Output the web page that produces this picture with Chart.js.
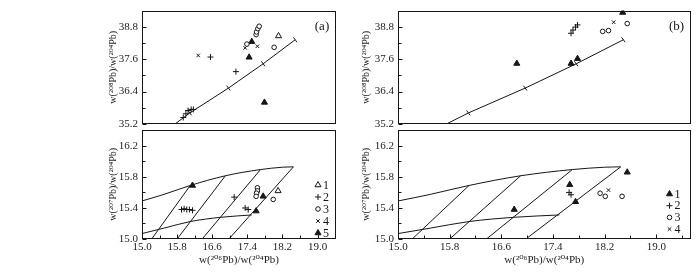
<!DOCTYPE html>
<html>
<head>
<meta charset="utf-8">
<script src="https://cdn.jsdelivr.net/npm/chart.js@4.4.1/dist/chart.umd.min.js"></script>
<style>
  html, body { margin: 0; padding: 0; background: #fff; }
  #wrap { position: relative; width: 700px; height: 275px; overflow: hidden; }
  #wrap canvas { position: absolute; }
</style>
</head>
<body>
<div id="wrap">
  <canvas id="aTop" width="345" height="135" style="left:0;top:0"></canvas>
  <canvas id="aBot" width="345" height="156" style="left:0;top:119px"></canvas>
  <canvas id="bTop" width="344" height="135" style="left:356px;top:0"></canvas>
  <canvas id="bBot" width="344" height="156" style="left:356px;top:119px"></canvas>
</div>
<script>
// ---- tick labels ----
const xTicks = [15.0, 15.8, 16.6, 17.4, 18.2, 19.0];
const yTicks208 = [35.2, 36.4, 37.6, 38.8];
const yTicks207 = [15.0, 15.4, 15.8, 16.2];

// ---- model curves (same in both panels) ----
const growth208 = [[15.75, 35.2], [16.09, 35.61], [16.97, 36.53], [17.76, 37.43], [18.49, 38.32]];
const growth207Upper = [[15.0, 15.49], [15.5, 15.575], [16.1, 15.69], [16.9, 15.815], [17.7, 15.895], [18.2, 15.925], [18.45, 15.93]];
const growth207Lower = [[15.0, 15.07], [15.5, 15.14], [16.1, 15.225], [16.8, 15.28], [17.5, 15.31]];
const iso1 = [[15.22, 15.0], [16.1, 15.69]];
const iso2 = [[15.8, 15.0], [16.9, 15.815]];
const iso3 = [[16.37, 15.0], [17.7, 15.895]];
const iso4 = [[16.98, 15.0], [18.45, 15.93]];

// ---- panel (a) samples ----
const a208S1 = [[18.11, 38.46]];
const a208S2 = [[15.94, 35.44], [16.00, 35.58], [16.05, 35.70], [16.12, 35.74], [16.17, 35.74], [16.56, 37.68], [17.14, 37.14]];
const a208S3 = [[17.39, 38.16], [17.60, 38.51], [17.61, 38.61], [17.64, 38.73], [17.67, 38.82], [18.01, 38.04]];
const a208S4 = [[16.28, 37.74], [17.35, 38.02], [17.63, 38.08]];
const a208S5 = [[17.50, 38.25], [17.44, 37.67], [17.79, 36.00]];

const a207S1 = [[18.10, 15.62]];
const a207S2 = [[15.90, 15.38], [15.96, 15.39], [16.02, 15.38], [16.08, 15.38], [16.15, 15.37], [17.10, 15.54], [17.35, 15.40], [17.42, 15.38]];
const a207S3 = [[17.63, 15.66], [17.63, 15.62], [17.61, 15.59], [17.60, 15.55], [17.99, 15.51]];
const a207S4 = [];
const a207S5 = [[16.15, 15.69], [17.76, 15.55], [17.60, 15.36]];

// ---- panel (b) samples ----
const b208S1 = [[18.48, 39.33], [16.84, 37.44], [17.68, 37.44], [17.78, 37.62]];
const b208S2 = [[17.68, 38.56], [17.71, 38.68], [17.75, 38.79], [17.78, 38.87]];
const b208S3 = [[18.17, 38.63], [18.26, 38.66], [18.55, 38.92]];
const b208S4 = [[18.34, 38.97]];

const b207S1 = [[18.55, 15.86], [17.66, 15.70], [17.75, 15.48], [16.80, 15.38]];
const b207S2 = [[17.65, 15.60], [17.68, 15.57]];
const b207S3 = [[18.13, 15.59], [18.21, 15.55], [18.47, 15.55]];
const b207S4 = [[18.26, 15.63]];

const INK = '#161616';
Chart.defaults.font.family = "'Liberation Serif', 'DejaVu Serif', serif";
Chart.defaults.font.size = 11;
Chart.defaults.color = '#222';

const toXY = pts => pts.map(p => ({ x: p[0], y: p[1] }));

// marker looks
const openTri = { pointStyle: 'triangle', pointRadius: 3.5, backgroundColor: '#fff' };
const solidTri = { pointStyle: 'triangle', pointRadius: 3.5, backgroundColor: INK };
const plus = { pointStyle: 'cross', pointRadius: 3, backgroundColor: 'transparent' };
const ring = { pointStyle: 'circle', pointRadius: 2.3, backgroundColor: '#fff' };
const xMark = { pointStyle: 'crossRot', pointRadius: 2.5, backgroundColor: 'transparent' };

function series(label, pts, look) {
  return Object.assign({
    label: label, data: toXY(pts), inLegend: true, showLine: false,
    borderColor: INK, borderWidth: 1
  }, look);
}

function curve(pts, extra) {
  return Object.assign({
    data: toXY(pts), showLine: true, pointRadius: 0, borderColor: INK,
    borderWidth: 1, fill: false, cubicInterpolationMode: 'monotone'
  }, extra || {});
}

// frame, inner ticks, legend and panel letter
const framePlugin = {
  id: 'frame',
  afterDatasetsDraw(chart, args, opts) {
    const { ctx, chartArea: a, scales } = chart;
    ctx.save();
    ctx.strokeStyle = INK;
    ctx.lineWidth = 1;
    const L = Math.round(a.left) + 0.5, T = Math.round(a.top) + 0.5;
    const R = Math.round(a.right) - 0.5, B = Math.round(a.bottom) - 0.5;
    ctx.strokeRect(L, T, R - L, B - T);

    const tickSet = (scale, major) => {
      const out = major.map(v => ({ v: v, len: 4 }));
      for (let i = 0; i < major.length - 1; i++) out.push({ v: (major[i] + major[i + 1]) / 2, len: 3 });
      const step = major[1] - major[0];
      const lo = major[0] - step / 2, hi = major[major.length - 1] + step / 2;
      if (lo > scale.min) out.push({ v: lo, len: 3 });
      if (hi < scale.max - 0.01) out.push({ v: hi, len: 3 });
      return out;
    };
    ctx.beginPath();
    tickSet(scales.y, opts.yMajor).forEach(t => {
      const py = Math.round(scales.y.getPixelForValue(t.v)) + 0.5;
      ctx.moveTo(L, py); ctx.lineTo(L + t.len, py);
    });
    if (opts.xTicks) {
      tickSet(scales.x, xTicks).forEach(t => {
        const px = Math.round(scales.x.getPixelForValue(t.v)) + 0.5;
        ctx.moveTo(px, B); ctx.lineTo(px, B - t.len);
      });
    }
    ctx.stroke();

    if (opts.letter) {
      ctx.fillStyle = INK;
      ctx.font = "13px 'Liberation Serif', serif";
      ctx.textAlign = 'center';
      ctx.textBaseline = 'middle';
      ctx.fillText(opts.letter, a.right - 14, a.top + 16);
    }

    if (opts.legend) {
      const lg = opts.legend;
      const items = chart.data.datasets.filter(d => d.inLegend);
      items.forEach((d, i) => {
        const x = a.right + lg.dx, y = a.bottom + lg.dy + i * lg.step;
        ctx.fillStyle = d.backgroundColor;
        ctx.strokeStyle = INK;
        ctx.lineWidth = 1;
        Chart.helpers.drawPoint(ctx, { pointStyle: d.pointStyle, radius: d.pointRadius, rotation: 0, borderWidth: 1 }, x, y);
        ctx.fillStyle = INK;
        ctx.font = "12px 'Liberation Serif', serif";
        ctx.textAlign = 'left';
        ctx.textBaseline = 'middle';
        ctx.fillText(d.label, x + 5, y + 0.5);
      });
    }
    ctx.restore();
  }
};

function yAxis(min, max, ticks, title, width) {
  return {
    type: 'linear', min: min, max: max,
    afterBuildTicks: s => { s.ticks = ticks.map(v => ({ value: v })); },
    afterFit: s => { s.width = width; },
    grid: { display: false, drawTicks: false },
    border: { display: false },
    ticks: { padding: 4, callback: v => v.toFixed(1) },
    title: { display: true, text: title, padding: 0, font: { size: 10 } }
  };
}

function xAxisBottom(max) {
  return {
    type: 'linear', min: 15.0, max: max,
    afterBuildTicks: s => { s.ticks = xTicks.map(v => ({ value: v })); },
    afterFit: s => { s.height = 28; },
    grid: { display: false, drawTicks: false },
    border: { display: false },
    ticks: { padding: 2, autoSkip: false, maxRotation: 0, callback: v => v.toFixed(1) },
    title: { display: true, text: 'w(²⁰⁶Pb)/w(²⁰⁴Pb)', padding: 0, font: { size: 11 } }
  };
}

function makeChart(id, datasets, scales, padding, frameOpts) {
  return new Chart(document.getElementById(id), {
    type: 'scatter',
    data: { datasets: datasets },
    options: {
      responsive: false,
      animation: false,
      layout: { padding: padding },
      scales: scales,
      plugins: { legend: { display: false }, tooltip: { enabled: false }, frame: frameOpts }
    },
    plugins: [framePlugin]
  });
}

const growthTicks = { pointStyle: 'line', pointRadius: [0, 3, 3, 3, 3], pointRotation: 54, pointBorderColor: INK, pointBorderWidth: 1, cubicInterpolationMode: 'default', tension: 0 };
const title208 = 'w(²⁰⁸Pb)/w(²⁰⁴Pb)';
const title207 = 'w(²⁰⁷Pb)/w(²⁰⁴Pb)';

// ---- panel (a) ----
makeChart('aTop', [
  series('1', a208S1, openTri), series('2', a208S2, plus), series('3', a208S3, ring),
  series('4', a208S4, xMark), series('5', a208S5, solidTri),
  curve(growth208, growthTicks)
], {
  x: { type: 'linear', min: 15.0, max: 19.42, display: false },
  y: yAxis(35.2, 39.4, yTicks208, title208, 35)
}, { left: 107, top: 7, right: 9, bottom: 11 }, { yMajor: yTicks208, letter: '(a)' });

makeChart('aBot', [
  series('1', a207S1, openTri), series('2', a207S2, plus), series('3', a207S3, ring),
  series('4', a207S4, xMark), series('5', a207S5, solidTri),
  curve(growth207Upper), curve(growth207Lower),
  curve(iso1), curve(iso2), curve(iso3), curve(iso4)
], {
  x: xAxisBottom(19.42),
  y: yAxis(15.0, 16.41, yTicks207, title207, 35)
}, { left: 107, top: 5, right: 9, bottom: 8 },
{ yMajor: yTicks207, xTicks: true, legend: { dx: -18, dy: -54, step: 12 } });

// ---- panel (b) ----
makeChart('bTop', [
  series('1', b208S1, solidTri), series('2', b208S2, plus), series('3', b208S3, ring),
  series('4', b208S4, xMark),
  curve(growth208, growthTicks)
], {
  x: { type: 'linear', min: 15.0, max: 19.53, display: false },
  y: yAxis(35.2, 39.4, yTicks208, title208, 38)
}, { left: 4, top: 7, right: 9.5, bottom: 11 }, { yMajor: yTicks208, letter: '(b)' });

makeChart('bBot', [
  series('1', b207S1, solidTri), series('2', b207S2, plus), series('3', b207S3, ring),
  series('4', b207S4, xMark),
  curve(growth207Upper), curve(growth207Lower),
  curve(iso1), curve(iso2), curve(iso3), curve(iso4)
], {
  x: xAxisBottom(19.53),
  y: yAxis(15.0, 16.41, yTicks207, title207, 38)
}, { left: 4, top: 5, right: 9.5, bottom: 8 },
{ yMajor: yTicks207, xTicks: true, legend: { dx: -21, dy: -45, step: 11.7 } });
</script>
</body>
</html>
